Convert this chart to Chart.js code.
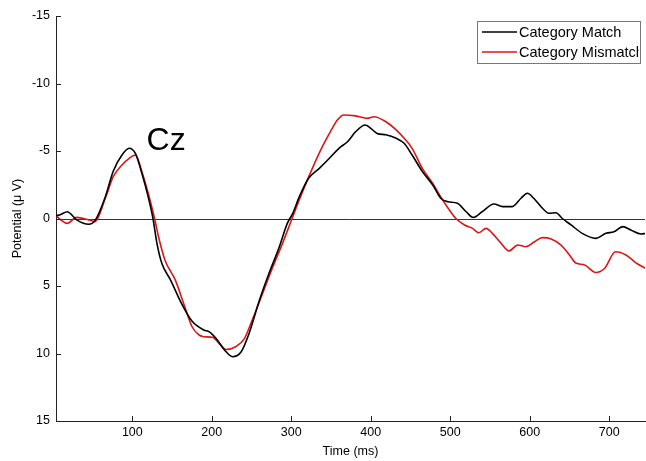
<!DOCTYPE html>
<html>
<head>
<meta charset="utf-8">
<script src="https://cdn.jsdelivr.net/npm/chart.js@4.4.0/dist/chart.umd.min.js"></script>
<style>
    body { margin: 0; background: #fff; }
    canvas { display: block; }
</style>
</head>
<body>
<canvas id="grafica" width="646" height="461"></canvas>
<script>
// ERP at Cz, grand average per condition (negative up)
const matchTimes = [4, 10, 18, 30, 45, 53, 66, 76, 87, 96, 104, 112, 120, 126, 131, 137, 148, 162, 175, 190,
    197, 207, 216, 226, 237, 247, 260, 272, 285, 295, 302, 310, 322, 335, 348, 360, 371, 381, 393, 400,
    408, 419, 432, 442, 452, 465, 478, 488, 497, 509, 520, 529, 540, 555, 566, 578, 589, 597, 605, 616,
    624, 633, 641, 652, 666, 683, 696, 706, 717, 727, 740, 746];
const matchValues = [-0.2, -0.3, -0.5, 0.1, 0.43, 0.16, -1.6, -3.5, -4.7, -5.2, -4.8, -3.35, -1.6, 0, 1.84, 3.3, 4.55, 6.3, 7.6, 8.26,
    8.4, 9.0, 9.74, 10.24, 9.87, 8.5, 6.04, 4.06, 2.09, 0.36, -0.4, -1.6, -3.0, -3.7, -4.46, -5.2, -5.7, -6.43, -6.93, -6.68,
    -6.3, -6.2, -5.94, -5.57, -4.7, -3.47, -2.48, -1.5, -1.24, -1.13, -0.5, -0.08, -0.5, -1.07, -0.88, -0.88, -1.5, -1.87, -1.5, -0.76,
    -0.39, -0.43, 0, 0.48, 1.1, 1.47, 1.1, 0.98, 0.6, 0.85, 1.15, 1.1];

const mismatchTimes = [4, 10, 18, 30, 45, 53, 66, 76, 87, 96, 104, 112, 120, 128, 133, 141, 154, 166, 175, 184,
    190, 201, 209, 218, 230, 241, 251, 264, 276, 289, 301, 310, 322, 335, 348, 358, 366, 381, 396, 404,
    419, 432, 442, 452, 465, 478, 488, 498, 507, 518, 528, 536, 545, 553, 564, 574, 585, 595, 606, 616,
    627, 639, 650, 658, 669, 683, 694, 708, 721, 734, 746];
const mismatchValues = [-0.2, 0.1, 0.36, -0.08, 0.1, 0.23, -1.5, -3.1, -3.96, -4.46, -4.7, -3.47, -1.87, 0, 1.35, 3.07, 4.55, 6.53, 8.0, 8.63,
    8.76, 8.8, 9.25, 9.7, 9.5, 8.9, 7.5, 5.54, 3.7, 1.84, 0, -1.37, -3.1, -4.83, -6.3, -7.3, -7.67, -7.6, -7.42, -7.54,
    -7.17, -6.56, -5.94, -5.2, -3.7, -2.6, -1.6, -0.7, 0, 0.48, 0.73, 1.05, 0.73, 1.1, 1.84, 2.4, 1.96, 2.09, 1.72, 1.42,
    1.52, 1.96, 2.7, 3.3, 3.44, 4.0, 3.7, 2.46, 2.7, 3.3, 3.7];

const seriesLabels = ["Category Match", "Category Mismatch"];
const xTicks = [100, 200, 300, 400, 500, 600, 700];
const yTicks = [-15, -10, -5, 0, 5, 10, 15];

const fuente = "'Liberation Sans', Arial, sans-serif";

function puntos(ts, vs) {
    return ts.map((t, i) => ({ x: t, y: vs[i] }));
}

// zero line, inward tick marks, electrode label and boxed legend
const extras = {
    id: "extras",
    beforeDatasetsDraw(chart) {
        const { ctx, chartArea, scales } = chart;
        const y0 = Math.round(scales.y.getPixelForValue(0)) + 0.5;
        ctx.save();
        ctx.strokeStyle = "#333";
        ctx.lineWidth = 1;
        ctx.beginPath();
        ctx.moveTo(chartArea.left, y0);
        ctx.lineTo(chartArea.right, y0);
        ctx.stroke();
        ctx.restore();
    },
    afterDraw(chart) {
        const { ctx, chartArea, scales } = chart;
        ctx.save();
        ctx.strokeStyle = "#222";
        ctx.lineWidth = 1;
        ctx.beginPath();
        xTicks.forEach(t => {
            const x = Math.round(scales.x.getPixelForValue(t)) + 0.5;
            ctx.moveTo(x, chartArea.bottom);
            ctx.lineTo(x, chartArea.bottom - 5);
        });
        yTicks.forEach(v => {
            const y = Math.round(scales.y.getPixelForValue(v)) + 0.5;
            ctx.moveTo(chartArea.left, y);
            ctx.lineTo(chartArea.left + 5, y);
        });
        ctx.stroke();

        // electrode name
        ctx.fillStyle = "#000";
        ctx.font = "32px " + fuente;
        ctx.textBaseline = "alphabetic";
        ctx.fillText("Cz", scales.x.getPixelForValue(118), scales.y.getPixelForValue(-5.1));

        // legend box, text clipped at its right edge
        const bx = 477.5, by = 21.5, bw = 163, bh = 42;
        ctx.fillStyle = "#fff";
        ctx.fillRect(bx, by, bw, bh);
        ctx.strokeStyle = "#777";
        ctx.strokeRect(bx, by, bw, bh);
        ctx.save();
        ctx.beginPath();
        ctx.rect(bx, by, bw - 2, bh);
        ctx.clip();
        ctx.font = "14.5px " + fuente;
        ctx.textBaseline = "middle";
        chart.data.datasets.forEach((ds, i) => {
            const ly = 32 + i * 20;
            ctx.strokeStyle = ds.borderColor;
            ctx.lineWidth = 1.5;
            ctx.beginPath();
            ctx.moveTo(482, ly);
            ctx.lineTo(517, ly);
            ctx.stroke();
            ctx.fillStyle = "#000";
            ctx.fillText(ds.label, 519, ly + 1);
        });
        ctx.restore();
        ctx.restore();
    }
};

const ctx = document.getElementById("grafica").getContext("2d");

new Chart(ctx, {
    type: "line",
    data: {
        datasets: [{
            label: seriesLabels[0],
            data: puntos(matchTimes, matchValues),
            borderColor: "#000000",
            borderWidth: 1.6,
            pointRadius: 0,
            cubicInterpolationMode: "monotone",
            fill: false
        }, {
            label: seriesLabels[1],
            data: puntos(mismatchTimes, mismatchValues),
            borderColor: "#dd1515",
            borderWidth: 1.6,
            pointRadius: 0,
            cubicInterpolationMode: "monotone",
            fill: false
        }]
    },
    options: {
        responsive: false,
        animation: false,
        layout: { padding: { top: 16, right: 1, left: 0, bottom: 0 } },
        plugins: {
            legend: { display: false },
            tooltip: { enabled: false }
        },
        scales: {
            x: {
                type: "linear",
                min: 4,
                max: 745,
                afterBuildTicks: scale => { scale.ticks = xTicks.map(v => ({ value: v })); },
                afterFit: scale => { scale.height = 40; },
                grid: { display: false, drawTicks: false },
                border: { display: true, color: "#222", width: 1 },
                ticks: {
                    padding: 4,
                    color: "#000",
                    maxRotation: 0,
                    font: { family: fuente, size: 12.5 }
                },
                title: {
                    display: true,
                    text: "Time (ms)",
                    color: "#000",
                    padding: { top: 0, bottom: 2 },
                    font: { family: fuente, size: 12.5 }
                }
            },
            y: {
                reverse: true,
                min: -15,
                max: 15,
                afterBuildTicks: scale => { scale.ticks = yTicks.map(v => ({ value: v })); },
                afterFit: scale => { scale.width = 56; },
                grid: { display: false, drawTicks: false },
                border: { display: true, color: "#222", width: 1 },
                ticks: {
                    padding: 6,
                    color: "#000",
                    font: { family: fuente, size: 12.5 }
                },
                title: {
                    display: true,
                    text: "Potential (\u03bc V)",
                    color: "#000",
                    padding: { top: 10, bottom: 0 },
                    font: { family: fuente, size: 12.5 }
                }
            }
        }
    },
    plugins: [extras]
});
</script>
</body>
</html>
